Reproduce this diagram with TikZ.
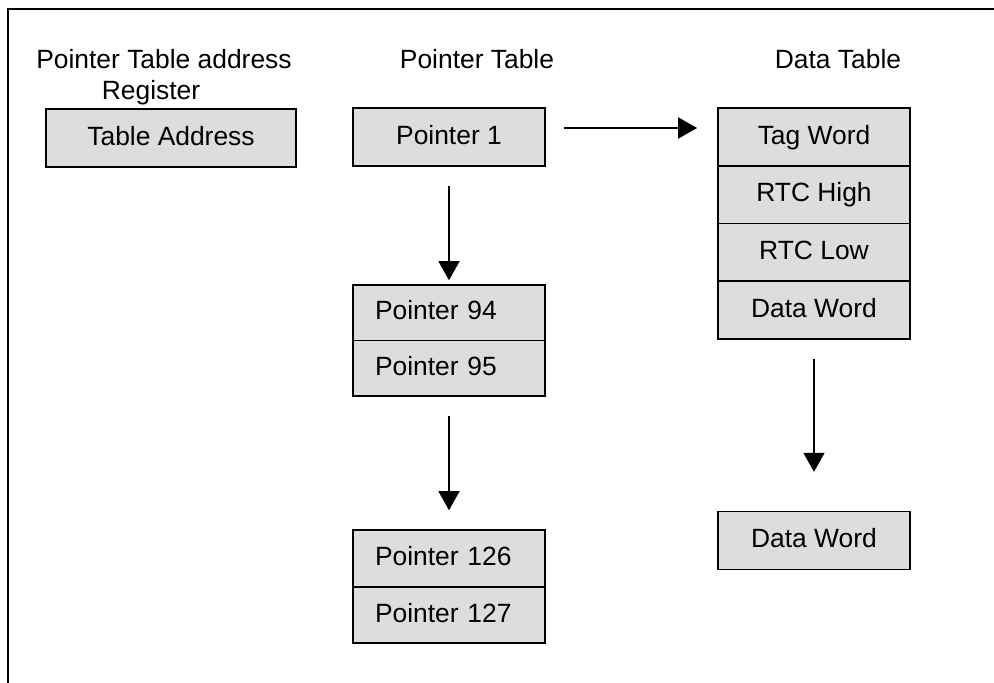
\documentclass[tikz,border=0pt]{standalone}
\usepackage{fontspec}
\setmainfont{Liberation Sans}
\usetikzlibrary{arrows.meta}
\definecolor{boxfill}{RGB}{221,221,221}
\tikzset{
  lbl/.style={font=\fontsize{26.4pt}{31pt}\selectfont, inner sep=0pt, anchor=base},
  cell/.style={draw=black, fill=boxfill, line width=1.6pt, inner sep=0pt,
    text height=20pt, text depth=6pt,
    font=\fontsize{26.4pt}{31pt}\selectfont, minimum width=192pt, minimum height=57.7pt},
  lcell/.style={cell, inner xsep=22pt, text width=148pt, align=left, minimum height=55.5pt},
  conn/.style={line width=1.4pt, -{Triangle[length=19pt, width=21pt]}}
}
\begin{document}
\begin{tikzpicture}[x=1pt, y=-1pt]
\useasboundingbox (0,0) rectangle (994,683);
% frame (open on right and bottom)
\draw[line width=2pt] (8,683) -- (8,9) -- (994,9);
% titles
\node[lbl] (t1) at (164,68) {Pointer Table address};
\node[lbl] (t2) at (151,99) {Register};
\node[lbl] (t3) at (477,68) {Pointer Table};
\node[lbl] (t4) at (838,68) {Data Table};
% register
\node[cell, minimum width=250pt, minimum height=58pt] (ta) at (171,138) {Table Address};
% pointer table
\node[cell, minimum height=58pt] (p1) at (449,137) {Pointer 1};
\node[lcell] (p94) at (449,312.75) {Pointer 94};
\node[lcell] (p95) at (449,368.25) {Pointer 95};
\node[lcell, minimum height=57pt] (p126) at (449,558.5) {Pointer 126};
\node[lcell, minimum height=56pt] (p127) at (449,615) {Pointer 127};
% data table
\node[cell] (tag) at (814,137) {Tag Word};
\node[cell] (rh) at (814,194.7) {RTC High};
\node[cell] (rl) at (814,252.4) {RTC Low};
\node[cell] (dw) at (814,310.1) {Data Word};
\node[cell] (dw2) at (814,540.5) {Data Word};
% connectors
\draw[conn] ([xshift=18pt,yshift=9pt]p1.east) -- ([xshift=-20pt,yshift=9pt]tag.west);
\draw[conn] ([yshift=-19pt]p1.south) -- ([yshift=4pt]p94.north);
\draw[conn] ([yshift=-19pt]p95.south) -- ([yshift=19pt]p126.north);
\draw[conn] ([yshift=-19pt]dw.south) -- ([yshift=39pt]dw2.north);
\end{tikzpicture}
\end{document}
